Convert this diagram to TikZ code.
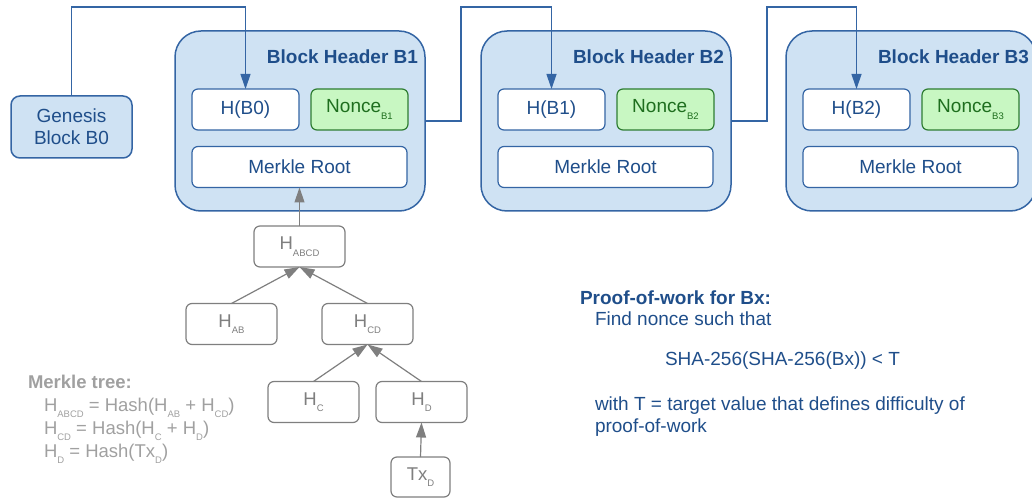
\documentclass[tikz,border=0pt]{standalone}
\usepackage{fontspec}
\setmainfont{Liberation Sans}
\usetikzlibrary{arrows.meta}
\definecolor{lblue}{HTML}{CFE2F3}
\definecolor{bord}{HTML}{3465A4}
\definecolor{tblue}{HTML}{1F4E8A}
\definecolor{gfill}{HTML}{C8F7C2}
\definecolor{gbord}{HTML}{2E7D32}
\definecolor{gtext}{HTML}{1E6E1E}
\definecolor{tgray}{HTML}{7F7F7F}
\definecolor{lgray}{HTML}{A0A0A0}
\newcommand\mysub[1]{\raisebox{-6.5pt}{\fontsize{9.5}{10}\selectfont #1}}
\begin{document}
\begin{tikzpicture}[x=1pt,y=-1pt,
  every node/.style={inner sep=0pt, outer sep=0pt},
  hdr/.style={draw=bord, fill=lblue, rounded corners=26pt, line width=1.5pt, minimum width=250pt, minimum height=180pt},
  gen/.style={draw=bord, fill=lblue, rounded corners=9pt, line width=1.5pt, minimum width=121pt, minimum height=62pt, text=tblue, align=center, font=\fontsize{19}{22}\selectfont},
  inbox/.style={draw=bord, fill=white, rounded corners=6pt, line width=1.2pt, minimum height=41pt, text=tblue, font=\fontsize{19}{22}\selectfont},
  noncebox/.style={draw=gbord, fill=gfill, rounded corners=6pt, line width=1.2pt, minimum width=97pt, minimum height=41pt, text=gtext, font=\fontsize{19}{22}\selectfont},
  title/.style={anchor=base east, text=tblue, font=\bfseries\fontsize{19}{22}\selectfont},
  tbox/.style={draw=tgray, fill=white, rounded corners=6pt, line width=1.2pt, minimum width=91pt, minimum height=41pt, text=tgray, font=\fontsize{18.5}{22}\selectfont},
  barrow/.style={draw=bord, line width=1.2pt, -{Triangle[length=15pt,width=10pt]}},
  tarrow/.style={draw=tgray, line width=1.2pt, -{Triangle[length=15pt,width=10pt]}},
  txt/.style={anchor=base west, text=tblue, font=\fontsize{19}{22}\selectfont},
  mtxt/.style={anchor=base west, text=lgray, font=\fontsize{18.5}{22}\selectfont}
]
\useasboundingbox (0,0) rectangle (1032,502);

% Genesis
\node[gen] (gen) at (71.5,127) {Genesis\\Block B0};

% Block headers
\node[hdr] (b1) at (300,121) {};
\node[title] (t1) at (418,64) {Block Header B1};
\node[inbox, minimum width=107pt] (hb0) at (245.5,109.5) {H(B0)};
\node[noncebox] (n1) at (359.5,109.5) {Nonce\mysub{B1}};
\node[inbox, minimum width=215pt] (m1) at (299.5,167) {Merkle Root};

\node[hdr] (b2) at (606,121) {};
\node[title] (t2) at (724,64) {Block Header B2};
\node[inbox, minimum width=107pt] (hb1) at (551.5,109.5) {H(B1)};
\node[noncebox] (n2) at (665.5,109.5) {Nonce\mysub{B2}};
\node[inbox, minimum width=215pt] (m2) at (605.5,167) {Merkle Root};

\node[hdr] (b3) at (911,121) {};
\node[title] (t3) at (1029,64) {Block Header B3};
\node[inbox, minimum width=107pt] (hb2) at (856.5,109.5) {H(B2)};
\node[noncebox] (n3) at (970.5,109.5) {Nonce\mysub{B3}};
\node[inbox, minimum width=215pt] (m3) at (910.5,167) {Merkle Root};

% chain connectors
\coordinate (top0) at (0,7);
\coordinate (j1) at (461,7);
\coordinate (j2) at (767,7);
\draw[barrow] (gen.north) -- (gen.north |- top0) -| (hb0.north);
\draw[barrow] (b1.east) -| (j1) -| (hb1.north);
\draw[barrow] (b2.east) -| (j2) -| (hb2.north);

% Merkle tree
\node[tbox] (habcd) at (299.5,246.5) {H\mysub{ABCD}};
\node[tbox] (hab) at (231.5,324) {H\mysub{AB}};
\node[tbox] (hcd) at (367.5,324) {H\mysub{CD}};
\node[tbox] (hc) at (313.5,402) {H\mysub{C}};
\node[tbox] (hd) at (421.5,402) {H\mysub{D}};
\node[tbox, minimum width=59pt, minimum height=40pt] (txd) at (420.5,477) {Tx\mysub{D}};

\draw[tarrow] (habcd.north) -- (m1.south);
\draw[tarrow] (hab.north) -- (habcd.south);
\draw[tarrow] (hcd.north) -- (habcd.south);
\draw[tarrow] (hc.north) -- (hcd.south);
\draw[tarrow] (hd.north) -- (hcd.south);
\draw[tarrow] (txd.north) -- (hd.south);

% Merkle tree legend
\node[mtxt, font=\bfseries\fontsize{18.5}{22}\selectfont] (ml0) at (28,388) {Merkle tree:};
\node[mtxt] (ml1) at (44,411) {H\mysub{ABCD} = Hash(H\mysub{AB} + H\mysub{CD})};
\node[mtxt] (ml2) at (44,434) {H\mysub{CD} = Hash(H\mysub{C} + H\mysub{D})};
\node[mtxt] (ml3) at (44,457) {H\mysub{D} = Hash(Tx\mysub{D})};

% Proof-of-work text
\node[txt, font=\bfseries\fontsize{19}{22}\selectfont] (p0) at (580,304) {Proof-of-work for Bx:};
\node[txt] (p1) at (595,325) {Find nonce such that};
\node[txt] (p2) at (665,365) {SHA-256(SHA-256(Bx)) < T};
\node[txt] (p3) at (595,410) {with T = target value that defines difficulty of};
\node[txt] (p4) at (595,432) {proof-of-work};
\end{tikzpicture}
\end{document}
